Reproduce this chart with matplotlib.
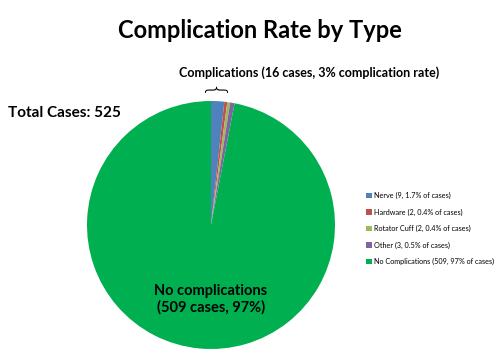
import matplotlib.pyplot as plt

labels = ["Nerve (9, 1.7% of cases)", "Hardware (2, 0.4% of cases)",
          "Rotator Cuff (2, 0.4% of cases)", "Other (3, 0.5% of cases)",
          "No Complications (509, 97% of cases)"]
counts = [9, 2, 2, 3, 509]
colors = ["#4F81BD", "#C0504D", "#9BBB59", "#8064A2", "#00B050"]

plt.rcParams['font.family'] = ['Lato', 'DejaVu Sans']

W, H = 500, 363
fig = plt.figure(figsize=(W / 100, H / 100), dpi=100)

# pie centre ~ (211, 225) px, radius ~124 px
cx, cy, r = 211, 225, 124
ax = fig.add_axes([(cx - r) / W, (H - cy - r) / H, 2 * r / W, 2 * r / H])
wedges, _ = ax.pie(counts, colors=colors, startangle=90, counterclock=False,
                   radius=1.0, wedgeprops=dict(linewidth=0))
ax.set_xlim(-1, 1)
ax.set_ylim(-1, 1)
ax.set_aspect('equal')
ax.axis('off')

ax.text(0.0, -0.6, "No complications\n(509 cases, 97%)", ha='center', va='center',
        fontsize=10.5, fontweight='bold', linespacing=1.25)

fig.text(0.52, 1 - 30 / H, "Complication Rate by Type", ha='center', va='center',
         fontsize=17, fontweight='bold')
fig.text(0.618, 1 - 73 / H, "Complications (16 cases, 3% complication rate)",
         ha='center', va='center', fontsize=9, fontweight='bold')
fig.text(214 / W, 1 - 84 / H, "}", ha='center', va='center', fontsize=17,
         rotation=90, family='DejaVu Sans', fontweight='light')
fig.text(8 / W, 1 - 113 / H, "Total Cases: 525", ha='left', va='center',
         fontsize=11, fontweight='bold')

leg = fig.legend(wedges, labels, loc='upper left', bbox_to_anchor=(363 / W, 1 - 189 / H),
                 frameon=False, fontsize=5.2, handlelength=0.8, handleheight=0.8,
                 handletextpad=0.3, labelspacing=1.3, borderaxespad=0)

fig.savefig("out.png", dpi=100)
